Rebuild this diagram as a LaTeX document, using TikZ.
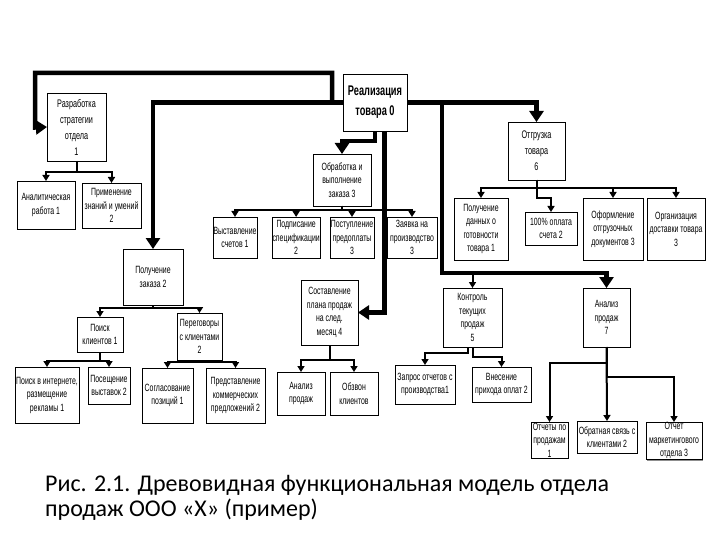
\documentclass[tikz,border=0pt]{standalone}
\usepackage{fontspec}
\setmainfont{Carlito}
\newfontfamily\boxfont[FakeStretch=0.66]{Liberation Sans}
\usetikzlibrary{arrows.meta,shadows}
\begin{document}
\begin{tikzpicture}[x=1pt,y=-1pt,
  box/.style={draw=black, line width=0.9pt, fill=white, inner sep=0.5pt, outer sep=0pt,
    align=center, anchor=north west, font=\boxfont\fontsize{10.5}{13.5}\selectfont,
    drop shadow={shadow xshift=1.2pt, shadow yshift=-1.2pt, fill=black!55, opacity=0.8}},
  bigtext/.style={font=\boxfont\fontsize{11}{16}\selectfont},
  thk/.style={line width=4.5pt, line join=miter, -{Triangle[width=14pt,length=11pt]}},
  thn/.style={line width=2pt, -{Triangle[width=7pt,length=6pt]}},
  captext/.style={anchor=base west, inner sep=0pt, font=\fontsize{24}{28}\selectfont},
]
\useasboundingbox[fill=white] (0,0) rectangle (720,540);

% root
\node[box, minimum width=64pt, minimum height=57pt,
  font=\boxfont\bfseries\fontsize{14}{20}\selectfont] (r0) at (343,74) {Реализация\\товара 0};

% level 1
\node[box, bigtext, minimum width=59pt, minimum height=68pt] (d1) at (47,93) {Разработка\\стратегии\\отдела\\1};
\node[box, minimum width=58pt, minimum height=52pt] (ob) at (313,154) {Обработка и\\выполнение\\заказа 3};
\node[box, bigtext, minimum width=57pt, minimum height=58pt] (o6) at (508,122) {Отгрузка\\товара\\6};
\node[box, minimum width=60pt, minimum height=56pt] (g2) at (123,249) {Получение\\заказа 2};
\node[box, minimum width=57pt, minimum height=65pt] (s4) at (301,280) {Составление\\плана продаж\\на след.\\месяц 4};
\node[box, minimum width=59pt, minimum height=59pt] (k5) at (443,288) {Контроль\\текущих\\продаж\\5};
\node[box, minimum width=47pt, minimum height=59pt] (a7) at (583,288) {Анализ\\продаж\\7};

% children of d1
\node[box, minimum width=58pt, minimum height=48pt] (a1) at (17,181) {Аналитическая\\работа 1};
\node[box, minimum width=59pt, minimum height=45pt] (a2) at (82,183) {Применение\\знаний и умений\\2};

% children of ob
\node[box, minimum width=44pt, minimum height=41pt] (b1) at (213,217) {Выставление\\счетов 1};
\node[box, minimum width=47pt, minimum height=41pt] (b2) at (272,217) {Подписание\\спецификации\\2};
\node[box, minimum width=44pt, minimum height=41pt] (b3) at (330,217) {Поступление\\предоплаты\\3};
\node[box, minimum width=50pt, minimum height=41pt] (b4) at (387,217) {Заявка на\\производство\\3};

% children of o6
\node[box, minimum width=54pt, minimum height=62pt] (p1) at (454,198) {Получение\\данных о\\готовности\\товара 1};
\node[box, minimum width=52pt, minimum height=33pt] (p2) at (525,212) {100\% оплата\\счета 2};
\node[box, minimum width=60pt, minimum height=62pt] (p3) at (583,198) {Оформление\\отгрузочных\\документов 3};
\node[box, minimum width=58pt, minimum height=62pt] (p4) at (647,198) {Организация\\доставки товара\\3};

% children of g2
\node[box, minimum width=46pt, minimum height=35pt] (k1) at (77,317) {Поиск\\клиентов 1};
\node[box, minimum width=45pt, minimum height=47pt] (k2) at (177,313) {Переговоры\\с клиентами\\2};
\node[box, minimum width=64pt, minimum height=56pt] (c1) at (15,367) {Поиск в интернете,\\размещение\\рекламы 1};
\node[box, minimum width=42pt, minimum height=37pt] (c2) at (88,367) {Посещение\\выставок 2};
\node[box, minimum width=51pt, minimum height=55pt] (c3) at (142,368) {Согласование\\позиций 1};
\node[box, minimum width=59pt, minimum height=55pt] (c4) at (206,368) {Представление\\коммерческих\\предложений 2};

% children of s4
\node[box, minimum width=48pt, minimum height=43pt] (e1) at (277,372) {Анализ\\продаж};
\node[box, minimum width=48pt, minimum height=43pt] (e2) at (330,372) {Обзвон\\клиентов};

% children of k5
\node[box, minimum width=60pt, minimum height=39pt] (f1) at (395,365) {Запрос отчетов с\\производства1};
\node[box, minimum width=59pt, minimum height=35pt] (f2) at (472,367) {Внесение\\прихода оплат 2};

% children of a7
\node[box, minimum width=37pt, minimum height=36pt] (h1) at (531,422) {Отчеты по\\продажам\\1};
\node[box, minimum width=60pt, minimum height=32pt] (h2) at (577,421) {Обратная связь с\\клиентами 2};
\node[box, minimum width=56pt, minimum height=31pt] (h3) at (646,422) {Отчет\\маркетингового\\отдела 3};

% caption
\node[captext] (cap1) at (45,491) {Рис. 2.1. Древовидная функциональная модель отдела};
\node[captext] (cap2) at (45,516) {продаж ООО «Х» (пример)};

% thick connectors
\draw[thk] (r0.west) -| (332,73) -| (35,127.5) -- (d1.west);
\draw[thk] (r0.west) -| (g2.north);
\draw[thk] (r0.east) -| (o6.north);
\draw[thk] (r0.east) -| (442,273) -| (a7.north);
\draw[thk] (r0.south) -- ++(0,10) -| (ob.north);
\draw[thk] ([xshift=9.5pt]r0.south) |- (s4.east);
\draw[thn] (442,273) -| (k5.north);

% thin connectors
\draw[thn] (d1.south) -- ++(0,11) -| (a1.north);
\draw[thn] (d1.south) -- ++(0,11) -| (a2.north);

\draw[thn] (ob.south) -- ++(0,4) -| (b1.north);
\draw[thn] (ob.south) -- ++(0,4) -| (b2.north);
\draw[thn] (ob.south) -- ++(0,4) -| (b3.north);
\draw[thn] (ob.south) -- ++(0,4) -| (b4.north);

\draw[thn] (o6.south) -- ++(0,8) -| (p1.north);
\draw[thn] (o6.south) |- ([yshift=14pt]p2.north) -- (p2.north);
\draw[thn] (o6.south) -- ++(0,8) -| (p3.north);
\draw[thn] (o6.south) -- ++(0,8) -| (p4.north);

\draw[thn] (g2.south) -- ++(0,3) -| (k1.north);
\draw[thn] (g2.south) -- ++(0,3) -| (k2.north);
\draw[thn] (k1.south) -- ++(0,9) -| (c1.north);
\draw[thn] (k1.south) -- ++(0,9) -| (c2.north);
\draw[thn] (k2.south) -- ++(0,2) -| (c3.north);
\draw[thn] (k2.south) -- ++(0,2) -| (c4.north);

\draw[thn] (s4.south) -- ++(0,15) -| (e1.north);
\draw[thn] (s4.south) -- ++(0,15) -| (e2.north);

\draw[thn] ([xshift=-5pt]k5.south) -- ++(0,6) -| (f1.north);
\draw[thn] (k5.south) -- ++(0,10) -| (f2.north);

\draw[thn] (a7.south) -- ++(0,16) -| (h1.north);
\draw[thn] (a7.south) -- (h2.north);
\draw[thn] (a7.south) -- ++(0,30) -| (h3.north);
\end{tikzpicture}
\end{document}
